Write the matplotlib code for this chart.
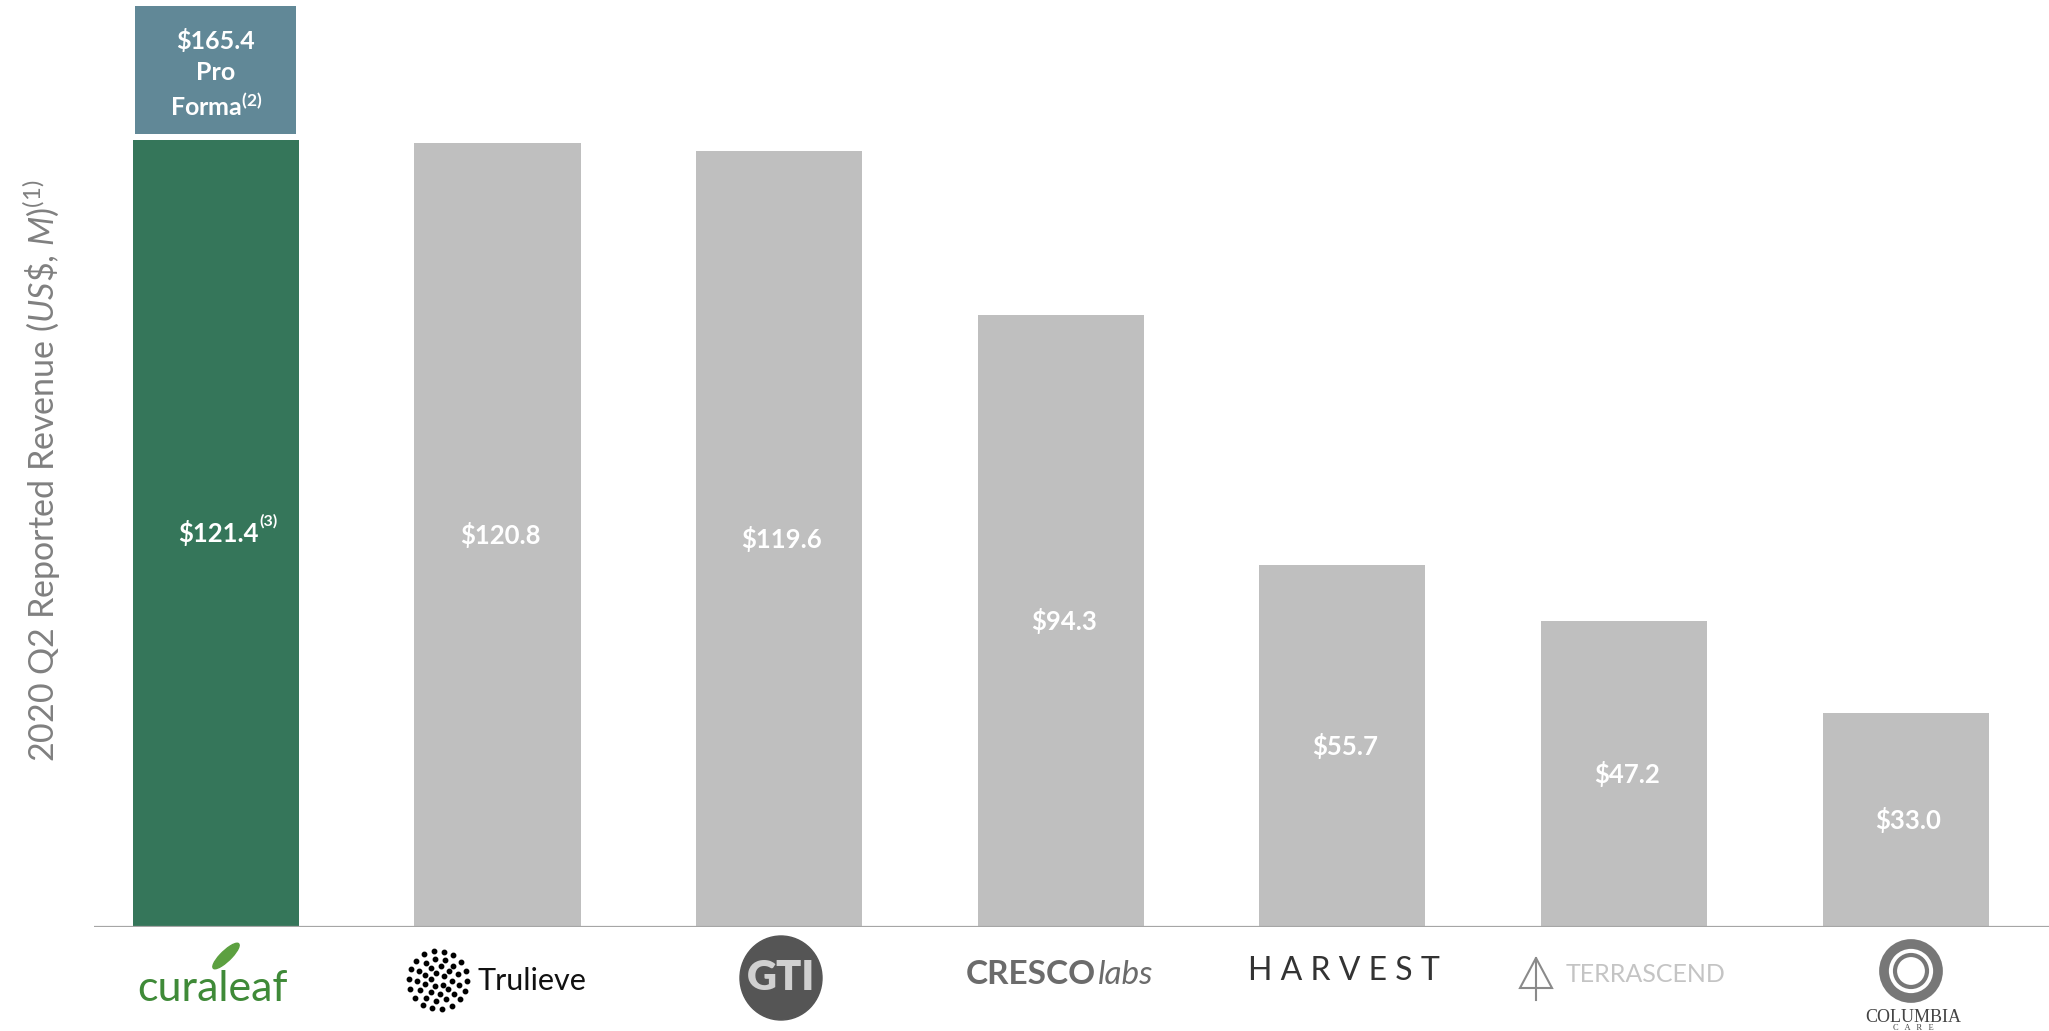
import numpy as np
import matplotlib
matplotlib.use("Agg")
import matplotlib.pyplot as plt
from matplotlib.patches import Ellipse, Polygon

# data
companies = ["Curaleaf", "Trulieve", "GTI", "Cresco Labs", "Harvest", "TerrAscend", "Columbia Care"]
revenue = [121.4, 120.8, 119.6, 94.3, 55.7, 47.2, 33.0]
value_labels = ["$121.4", "$120.8", "$119.6", "$94.3", "$55.7", "$47.2", "$33.0"]
value_notes = ["(3)", "", "", "", "", "", ""]
pro_forma = 165.4
pro_forma_label = "$165.4\nPro\n" + r"$\mathbf{Forma}^{\mathbf{(2)}}$"
y_label = r"2020 Q2 Reported Revenue $\mathit{(US\$}$, $\mathit{M)}^{\mathit{(1)}}$"

W, H = 2049, 1031
plt.rcParams['font.family'] = ['Lato', 'DejaVu Sans']
plt.rcParams['mathtext.fontset'] = 'custom'
plt.rcParams['mathtext.rm'] = 'Lato'
plt.rcParams['mathtext.it'] = 'Lato:italic'
plt.rcParams['mathtext.bf'] = 'Lato:bold'

green = "#35765A"
gray = "#BFBFBF"
slate = "#618897"

fig = plt.figure(figsize=(W / 100, H / 100), dpi=100)
ax = fig.add_axes([94 / W, (H - 926.5) / H, 1 - 94 / W, (926.5 - 6) / H])

x = np.arange(len(companies))
colors = [green] + [gray] * (len(companies) - 1)
ax.bar(x, revenue, width=0.59, color=colors, zorder=2)

ytop = 142.0
gap = 0.9
ax.bar(x[0], pro_forma - revenue[0] - gap, bottom=revenue[0] + gap, width=0.572, color=slate, zorder=2)

ax.set_xlim(-0.433, 6.509)
ax.set_ylim(0, ytop)
for s in ax.spines.values():
    s.set_visible(False)
ax.set_xticks([])
ax.set_yticks([])
ax.axhline(0, color="#A6A6A6", lw=1.6, zorder=3)

for xi, v, lab, note in zip(x, revenue, value_labels, value_notes):
    t = ax.text(xi + 0.01, v / 2, lab, ha="center", va="center", color="white",
                fontsize=18.5, fontweight="bold")
    if note:
        ax.annotate(note, xy=(1.0, 0.95), xycoords=t, ha="left", va="center",
                    color="white", fontsize=11.5, fontweight="bold")

ax.text(x[0], (revenue[0] + gap + ytop) / 2 - 0.7, pro_forma_label, ha="center", va="center",
        color="white", fontsize=18, fontweight="bold", linespacing=1.4)

fig.text(42 / W, 0.543, y_label, rotation=90, ha="center", va="center",
         fontsize=24.5, color="#808080")

# logos (approximated with text and simple shapes)
def fx(px):
    return px / W

def fy(py):
    return 1 - py / H

def xpix(i):
    return ax.transData.transform((i, 0))[0]

fig.canvas.draw()

# curaleaf
fig.text(fx(xpix(0) - 4), fy(989), "curaleaf", ha="center", va="center",
         fontsize=31, color="#3F8A38", zorder=5)
fig.patches.append(Ellipse((fx(226), fy(956)), 13 / W, 28 / H, angle=-25,
                           transform=fig.transFigure, color="#5CA040"))

# trulieve
cx, cy = 438, 980
pts = []
for r, n in [(7, 5), (14, 9), (21, 13), (29, 18)]:
    for k in range(n):
        a = 2 * np.pi * k / n + r
        pts.append((cx + r * np.cos(a), cy + r * np.sin(a)))
pts = np.array(pts)
fig.add_artist(plt.Line2D(pts[:, 0] / W, 1 - pts[:, 1] / H, ls="none", marker="o",
                          ms=3.2, color="black", transform=fig.transFigure))
fig.text(fx(478), fy(981), "Trulieve", ha="left", va="center", fontsize=22, color="#111111")

# GTI
fig.patches.append(Ellipse((fx(781), fy(978)), 82 / W, 84 / H, transform=fig.transFigure,
                           color="#555555"))
fig.text(fx(781), fy(978), "GTI", ha="center", va="center", fontsize=30,
         fontweight="heavy", color="#D0D0D0", zorder=5)

# cresco labs
fig.text(fx(1096), fy(975), "CRESCO", ha="right", va="center", fontsize=24,
         fontweight="bold", color="#6B6B6B")
fig.text(fx(1098), fy(975), "labs", ha="left", va="center", fontsize=24,
         style="italic", color="#6B6B6B")

# harvest
fig.text(fx(xpix(4) + 2), fy(971), "H A R V E S T", ha="center", va="center",
         fontsize=23, color="#333333")

# terrascend
fig.patches.append(Polygon([(fx(1536), fy(958)), (fx(1520), fy(988)), (fx(1552), fy(988))],
                           closed=True, fill=False, ec="#8A8A8A", lw=1.5, transform=fig.transFigure))
fig.add_artist(plt.Line2D([fx(1536), fx(1536)], [fy(958), fy(1000)], color="#8A8A8A",
                          lw=1.5, transform=fig.transFigure))
fig.text(fx(1566), fy(975), "TERRASCEND", ha="left", va="center", fontsize=18,
         color="#C4C4C4")

# columbia care
for rad, lw in [(27, 7), (16, 3)]:
    fig.patches.append(Ellipse((fx(1911), fy(971)), 2 * rad / W, 2 * rad / H,
                               transform=fig.transFigure, fill=False, ec="#777777", lw=lw))
fig.text(fx(1913), fy(1017), "COLUMBIA", ha="center", va="center", fontsize=13,
         family="Liberation Serif", color="#444444")
fig.text(fx(1913), fy(1028), "C   A   R   E", ha="center", va="center", fontsize=6,
         family="Liberation Serif", color="#444444")

fig.savefig("out.png", dpi=100)
